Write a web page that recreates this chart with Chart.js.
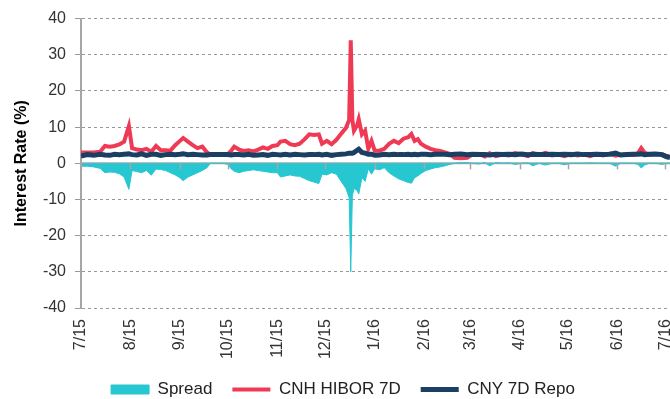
<!DOCTYPE html>
<html>
<head>
<meta charset="utf-8">
<script src="https://cdn.jsdelivr.net/npm/chart.js@4.4.1/dist/chart.umd.min.js"></script>
<style>
  html, body { margin: 0; padding: 0; background: #fff; }
  #wrap { width: 670px; height: 399px; }
</style>
</head>
<body>
<div id="wrap"><canvas id="rates"></canvas></div>
<script>
// days counted from 1 Jul 2015
var dayIdx = [
    0, 4, 8, 12, 15, 18, 21, 24, 27, 30, 32, 35, 38, 41, 44, 47, 50, 53, 56, 59,
    62, 64, 67, 70, 73, 76, 79, 81, 85, 89, 92, 94, 96, 99, 102, 105, 108, 111, 114, 117,
    120, 123, 125, 128, 131, 134, 137, 140, 143, 146, 149, 151, 154, 157, 160, 163, 166, 168, 169, 170,
    171, 173, 174, 176, 178, 180, 182, 184, 187, 190, 193, 196, 199, 202, 205, 207, 209, 211, 213, 216,
    219, 222, 225, 228, 231, 234, 238, 242, 245, 249, 253, 256, 260, 264, 268, 272, 276, 280, 283, 287,
    291, 295, 299, 303, 307, 311, 315, 319, 323, 327, 331, 335, 338, 342, 346, 349, 351, 353, 356, 360,
    364, 367, 369
];

var cnhHibor = [
    3.0, 3.0, 3.0, 3.2, 4.8, 4.6, 4.8, 5.2, 6.0, 10.3, 4.2, 3.8, 3.6, 4.0, 3.2, 4.8, 3.6, 3.6, 3.5, 5.0,
    6.2, 7.0, 6.0, 5.0, 4.2, 4.6, 3.0, 2.4, 2.4, 2.4, 2.5, 3.4, 4.6, 3.8, 3.4, 3.6, 3.3, 3.8, 4.4, 4.0,
    4.8, 5.0, 6.0, 6.2, 5.3, 5.0, 5.4, 6.6, 8.0, 7.8, 8.0, 5.4, 6.2, 5.3, 6.5, 8.2, 9.8, 12.0, 34.0, 12.0,
    9.0, 10.5, 12.2, 8.0, 9.0, 4.0, 6.2, 3.5, 3.5, 4.0, 5.4, 6.2, 5.6, 6.8, 7.2, 8.1, 6.2, 6.7, 5.4, 4.6,
    4.0, 3.6, 3.4, 3.0, 2.6, 1.5, 1.4, 1.5, 2.4, 2.6, 1.9, 2.8, 2.0, 2.4, 2.2, 2.8, 2.5, 2.0, 2.8, 2.3,
    2.9, 2.2, 2.4, 2.0, 2.6, 2.2, 2.5, 2.0, 2.6, 2.2, 2.6, 2.1, 2.4, 2.5, 2.3, 2.8, 4.2, 3.0, 2.4, 2.6,
    2.5, 2.0, 1.8
];

var cnyRepo = [
    2.0, 2.4, 2.2, 2.5, 2.3, 2.2, 2.5, 2.4, 2.5, 2.6, 2.4, 2.3, 2.6, 2.2, 2.5, 2.5, 2.2, 2.4, 2.5, 2.4,
    2.5, 2.6, 2.4, 2.5, 2.4, 2.3, 2.3, 2.4, 2.4, 2.4, 2.4, 2.3, 2.4, 2.4, 2.3, 2.5, 2.2, 2.3, 2.4, 2.2,
    2.5, 2.4, 2.3, 2.5, 2.3, 2.5, 2.4, 2.3, 2.4, 2.4, 2.5, 2.3, 2.5, 2.2, 2.4, 2.5, 2.6, 2.8, 2.8, 2.8,
    3.0, 3.6, 3.9, 3.0, 2.8, 2.5, 2.5, 2.2, 2.3, 2.5, 2.4, 2.5, 2.4, 2.4, 2.5, 2.4, 2.5, 2.4, 2.5, 2.5,
    2.4, 2.5, 2.5, 2.5, 2.4, 2.5, 2.6, 2.4, 2.5, 2.4, 2.4, 2.3, 2.5, 2.4, 2.5, 2.4, 2.6, 2.4, 2.5, 2.4,
    2.4, 2.5, 2.4, 2.5, 2.4, 2.6, 2.4, 2.4, 2.5, 2.4, 2.5, 2.8, 2.3, 2.4, 2.5, 2.5, 2.6, 2.4, 2.5, 2.6,
    2.4, 1.8, 1.6
];

var spread = [
    -0.8, -0.8, -1.0, -1.4, -2.6, -2.4, -2.5, -2.9, -3.8, -7.2, -2.0, -2.3, -2.6, -2.0, -3.3, -1.6, -1.7, -2.0, -2.6, -3.2,
    -4.0, -4.8, -3.8, -3.2, -2.6, -2.0, -1.2, 0, 0, 0, -0.3, -1.5, -2.2, -2.6, -2.2, -2.0, -1.8, -2.0, -2.2, -2.4,
    -2.6, -2.6, -3.8, -3.5, -3.2, -3.5, -3.6, -4.2, -4.8, -5.2, -5.6, -3.0, -3.2, -2.6, -3.0, -5.0, -7.0, -9.5, -30.0, -9.0,
    -7.0, -7.5, -8.5, -4.0, -5.0, -1.5, -3.0, -1.5, -1.8, -1.2, -2.6, -3.5, -4.3, -4.8, -5.3, -5.5, -4.0, -3.5, -2.8, -2.0,
    -1.6, -1.2, -1.0, -0.7, -0.3, 0, 0.2, 0.2, 0, -0.2, 0.2, -0.7, 0.2, 0, 0.1, -0.3, 0, 0.1, -0.7, 0,
    -0.5, 0, 0, -0.4, 0, 0, 0, 0.1, 0, 0, 0, -0.8, 0, 0, 0, -0.3, -1.3, -0.5, 0, 0,
    -0.3, 0, 0
];

// month starts used as x-axis ticks
var monthDays = [0, 31, 62, 92, 123, 153, 184, 215, 244, 275, 305, 336, 366];
var monthLabels = ['7/15', '8/15', '9/15', '10/15', '11/15', '12/15', '1/16', '2/16', '3/16', '4/16', '5/16', '6/16', '7/16'];

var yTicks = [-40, -30, -20, -10, 0, 10, 20, 30, 40];

var FONT = "'Liberation Sans', Arial, sans-serif";
var AXIS_GREY = '#a6a6a6';

function toPoints(values) {
    return values.map(function (v, i) { return { x: dayIdx[i], y: v }; });
}

// solid zero line under the series, month ticks hanging from it on top
var zeroAxis = {
    id: 'zeroAxis',
    beforeDatasetsDraw: function (chart) {
        var ctx = chart.ctx;
        var area = chart.chartArea;
        var y0 = chart.scales.y.getPixelForValue(0);
        ctx.save();
        ctx.strokeStyle = AXIS_GREY;
        ctx.lineWidth = 2;
        ctx.beginPath();
        ctx.moveTo(area.left, y0);
        ctx.lineTo(area.right, y0);
        ctx.stroke();
        ctx.restore();
    },
    afterDatasetsDraw: function (chart) {
        var ctx = chart.ctx;
        var xs = chart.scales.x;
        var y0 = chart.scales.y.getPixelForValue(0);
        ctx.save();
        ctx.strokeStyle = AXIS_GREY;
        ctx.lineWidth = 1.5;
        monthDays.forEach(function (d) {
            var px = Math.round(xs.getPixelForValue(d)) + 0.5;
            ctx.beginPath();
            ctx.moveTo(px, y0);
            ctx.lineTo(px, y0 + 6);
            ctx.stroke();
        });
        ctx.restore();
    }
};

var ctx = document.getElementById('rates').getContext('2d');
var ratesChart = new Chart(ctx, {
    type: 'line',
    data: {
        datasets: [{
            label: 'Spread',
            data: toPoints(spread),
            borderColor: '#27c7d1',
            backgroundColor: '#27c7d1',
            borderWidth: 1,
            fill: 'origin',
            pointRadius: 0,
            pointStyle: 'rect',
            order: 3
        }, {
            label: 'CNH HIBOR 7D',
            data: toPoints(cnhHibor),
            borderColor: '#ee3a54',
            backgroundColor: '#ee3a54',
            borderWidth: 4,
            fill: false,
            pointRadius: 0,
            pointStyle: 'line',
            order: 2
        }, {
            label: 'CNY 7D Repo',
            data: toPoints(cnyRepo),
            borderColor: '#1b3f63',
            backgroundColor: '#1b3f63',
            borderWidth: 5,
            fill: false,
            pointRadius: 0,
            pointStyle: 'line',
            order: 1
        }]
    },
    options: {
        responsive: true,
        maintainAspectRatio: false,
        animation: false,
        layout: {
            padding: { top: 18, left: 16, right: 0, bottom: -9 }
        },
        elements: {
            line: { tension: 0 }
        },
        scales: {
            x: {
                type: 'linear',
                min: 0,
                max: 369,
                grid: { display: false, drawTicks: false },
                border: { display: false },
                afterBuildTicks: function (scale) {
                    scale.ticks = monthDays.map(function (d) { return { value: d }; });
                },
                afterFit: function (scale) {
                    scale.height = 53;
                    scale.paddingLeft = 0;
                    scale.paddingRight = 0;
                },
                ticks: {
                    autoSkip: false,
                    minRotation: 90,
                    maxRotation: 90,
                    padding: 11,
                    color: '#333',
                    font: { family: FONT, size: 16 },
                    callback: function (value) {
                        var i = monthDays.indexOf(value);
                        return i >= 0 ? monthLabels[i] : '';
                    }
                }
            },
            y: {
                min: -40,
                max: 40,
                afterBuildTicks: function (scale) {
                    scale.ticks = yTicks.map(function (v) { return { value: v }; });
                },
                afterFit: function (scale) {
                    scale.width = 65;
                },
                grid: {
                    color: function (c) { return c.tick && c.tick.value === 0 ? 'rgba(0,0,0,0)' : '#999999'; },
                    lineWidth: 1,
                    tickLength: 6,
                    tickColor: '#999999'
                },
                border: {
                    display: true,
                    color: AXIS_GREY,
                    width: 2,
                    dash: [3, 3]
                },
                ticks: {
                    padding: 9,
                    color: '#333',
                    font: { family: FONT, size: 16 }
                },
                title: {
                    display: true,
                    text: 'Interest Rate (%)',
                    color: '#000',
                    padding: { top: 0, bottom: 0 },
                    font: { family: FONT, size: 16, weight: 'bold', lineHeight: 0.7 }
                }
            }
        },
        plugins: {
            legend: {
                position: 'bottom',
                labels: {
                    usePointStyle: true,
                    pointStyleWidth: 38,
                    boxHeight: 9,
                    padding: 20,
                    color: '#222',
                    font: { family: FONT, size: 17 },
                    // keep dataset order, not draw order
                    sort: function (a, b) { return a.datasetIndex - b.datasetIndex; }
                }
            },
            tooltip: { enabled: false }
        }
    },
    plugins: [zeroAxis]
});
</script>
</body>
</html>
